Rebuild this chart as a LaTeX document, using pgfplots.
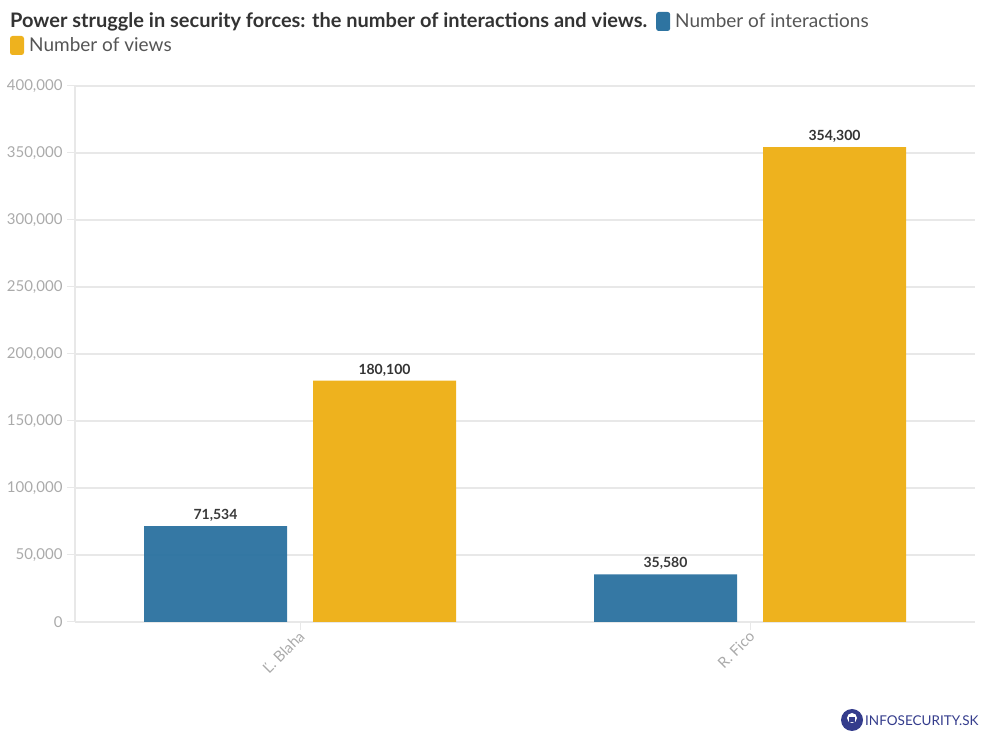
\documentclass[border=0pt]{standalone}
\usepackage{fontspec}
\setmainfont{Lato}
\usepackage{pgfplots}
\pgfplotsset{compat=1.18}
\definecolor{bblue}{RGB}{46,116,161}
\definecolor{byellow}{RGB}{238,178,30}
\definecolor{tickgray}{RGB}{170,170,170}
\definecolor{gridgray}{RGB}{232,232,232}
\definecolor{titlegray}{RGB}{51,51,51}
\definecolor{leggray}{RGB}{85,85,85}
\definecolor{logoblue}{RGB}{52,60,140}
\begin{document}
\begin{tikzpicture}[x=1bp,y=1bp]
\path[use as bounding box] (0,0) rectangle (981,731);
\node[anchor=base west, inner sep=0pt, text=titlegray] at (10,703)
  {{\fontsize{20bp}{22bp}\selectfont\bfseries Power struggle in security forces: the number of interactions and views.}\hspace{9bp}%
   \tikz[baseline=0pt]\fill[bblue, rounded corners=2.5bp] (0,-3bp) rectangle (14bp,16bp);\hspace{5bp}%
   {\fontsize{19bp}{22bp}\selectfont\color{leggray}Number of interactions}};
\fill[byellow, rounded corners=2.5bp] (10,676) rectangle (24,695);
\node[anchor=base west, inner sep=0pt, text=leggray] at (29,679)
  {\fontsize{19bp}{22bp}\selectfont Number of views};
\begin{axis}[
  at={(75bp,109bp)}, anchor=south west, scale only axis,
  width=900bp, height=536bp,
  xmin=-0.5, xmax=1.5, ymin=0, ymax=400000,
  ybar=26bp, bar width=143bp,
  xtick={0,1}, xticklabels={Ľ. Blaha, R. Fico},
  ytick={0,50000,100000,150000,200000,250000,300000,350000,400000},
  scaled y ticks=false,
  /pgf/number format/assume math mode=true,
  /pgf/number format/fixed,
  /pgf/number format/1000 sep={,},
  y tick label style={font=\fontsize{15bp}{17bp}\selectfont, text=tickgray, xshift=-1bp},
  x tick label style={font=\fontsize{15bp}{17bp}\selectfont, text=tickgray, rotate=45, anchor=east, xshift=2bp, yshift=-4bp},
  ymajorgrids, grid style={gridgray, line width=1.2bp},
  axis x line*=bottom, axis y line*=left,
  axis line style={gridgray, line width=1.2bp, -},
  tick align=outside, major tick length=8bp,
  tick style={gridgray, line width=1bp},
  nodes near coords,
  every node near coord/.append style={font=\fontsize{14bp}{16bp}\selectfont\bfseries, text=titlegray, yshift=1bp},
  clip=false,
]
\addplot[fill=bblue, draw=none, fill opacity=0.97] coordinates {(0,71534) (1,35580)};
\addplot[fill=byellow, draw=none] coordinates {(0,180100) (1,354300)};
\end{axis}
\fill[logoblue] (852,11) circle (11);
\fill[white] (852,13) circle (5);
\fill[logoblue] (849,9) rectangle (855,14);
\node[anchor=base west, inner sep=0pt, text=logoblue] at (865,5)
  {\fontsize{13.5bp}{16bp}\selectfont INFOSECURITY.SK};
\end{tikzpicture}
\end{document}
